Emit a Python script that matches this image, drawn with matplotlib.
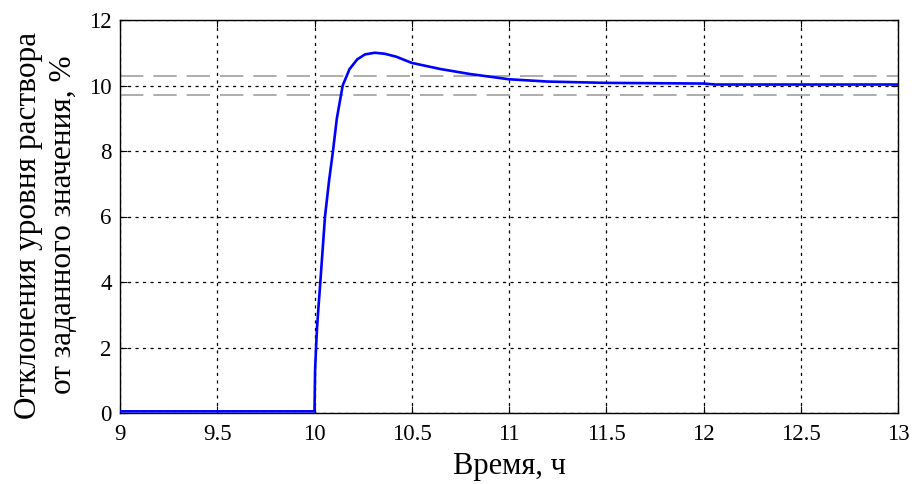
import numpy as np
import matplotlib.pyplot as plt

plt.rcParams['font.family'] = ['Liberation Serif', 'DejaVu Serif']

# отклонение уровня, % (читано с графика)
t = [9.0, 10.0, 10.003, 10.008, 10.013, 10.02, 10.03, 10.042, 10.054, 10.075,
     10.095, 10.115, 10.145, 10.18, 10.22, 10.26, 10.31, 10.36, 10.42, 10.5,
     10.65, 10.8, 11.0, 11.2, 11.5, 12.0, 12.06, 13.0]
h = [0.05, 0.05, 1.3, 2.0, 2.6, 3.2, 4.0, 5.0, 6.0, 7.1,
     8.0, 9.0, 10.0, 10.5, 10.8, 10.95, 11.0, 10.97, 10.88, 10.69,
     10.5, 10.35, 10.19, 10.12, 10.08, 10.06, 10.03, 10.03]
band = [10.3, 9.7]

fig = plt.figure(figsize=(9.15, 4.84), dpi=100)
ax = fig.add_axes([120 / 915, 1 - 413 / 484, 778 / 915, 393 / 484])

ax.plot(t, h, color='#0000ff', lw=1.9, zorder=3)
for b in band:
    ax.axhline(b, color='#a0a0a0', lw=1.2, dashes=(14, 6), zorder=2)

ax.set_xlim(9, 13)
ax.set_ylim(0, 12)
ax.set_xticks(np.arange(9, 13.01, 0.5))
ax.set_xticklabels(['9', '9.5', '10', '10.5', '11', '11.5', '12', '12.5', '13'])
ax.set_yticks(np.arange(0, 12.1, 2))
ax.grid(True, color='black', linestyle=(0, (2.5, 3.5)), lw=0.9)
ax.tick_params(direction='in', top=True, right=True, labelsize=16.5, length=5)
ax.tick_params(axis='x', pad=8)
ax.tick_params(axis='y', pad=6)
for s in ax.spines.values():
    s.set_linewidth(1.0)

ax.set_xlabel('Время, ч', fontsize=22, labelpad=5)
ax.set_ylabel('Отклонения уровня раствора\nот заданного значения, %',
              fontsize=22.5, linespacing=1.25)
ax.yaxis.set_label_coords(-0.054, 0.478)

fig.savefig('out.png', dpi=100)
